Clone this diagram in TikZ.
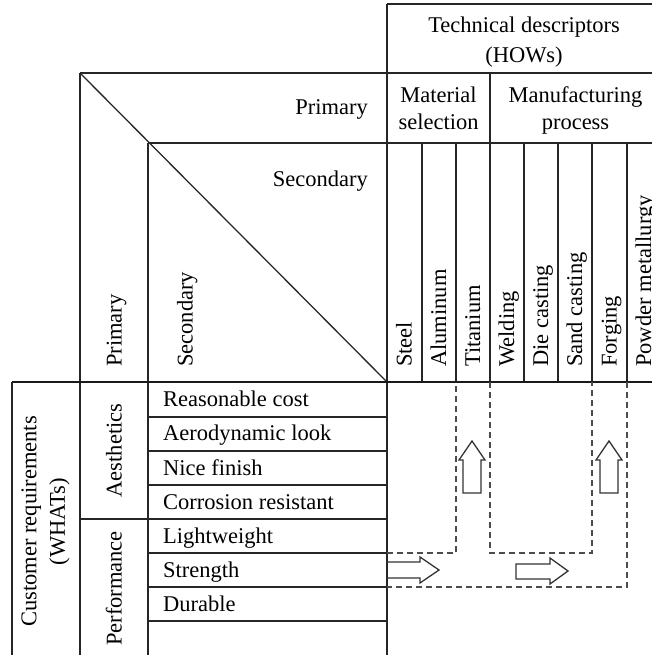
\documentclass[tikz,border=0pt]{standalone}
\usepackage{fontspec}
\setmainfont{Liberation Serif}
\begin{document}
\begin{tikzpicture}[x=1pt,y=-1pt,
  grid/.style={line width=1.3pt, draw=black!85},
  heavy/.style={line width=2.2pt, draw=black!90},
  dashline/.style={line width=1.3pt, draw=black!70, dash pattern=on 6pt off 4pt},
  blockarrow/.style={line width=1.3pt, draw=black!80, line join=miter},
  lbl/.style={inner sep=0pt, font=\fontsize{22.5}{27}\selectfont, text=black},
]
\useasboundingbox (0,0) rectangle (652,655);
\clip (0,0) rectangle (652,655);

% ---- grid of the house ----
\draw[grid] (387,4) -- (661,4);
\draw[grid] (80,73) -- (661,73);
\draw[grid] (148,143) -- (661,143);
\draw[grid] (387,4) -- (387,655);
\draw[grid] (80,73) -- (80,655);
\draw[grid] (148,143) -- (148,655);
\draw[grid] (12,382) -- (12,655);
\draw[grid] (80,73) -- (387,382);
\draw[grid] (490,73) -- (490,382);
\foreach \x in {422,456,524,558,592,627} \draw[grid] (\x,143) -- (\x,382);
\foreach \y in {417,451,485,553,587,621} \draw[grid] (148,\y) -- (387,\y);
\draw[grid] (80,519) -- (387,519);
\draw[heavy] (12,382) -- (661,382);

% ---- header texts ----
\node[lbl, align=center, anchor=north, font=\fontsize{22.5}{30}\selectfont] (hows) at (524,16.5) {Technical descriptors\\(HOWs)};
\node[lbl, align=center, anchor=north] (matsel) at (438.5,86.5) {Material\\selection};
\node[lbl, align=center, anchor=north] (manproc) at (575.5,86.5) {Manufacturing\\process};

\node[lbl, anchor=base east] (prihow) at (368,115) {Primary};
\node[lbl, anchor=base east] (sechow) at (368,186) {Secondary};
\node[lbl, rotate=90, anchor=base west] (priwhat) at (121.7,367) {Primary};
\node[lbl, rotate=90, anchor=base west] (secwhat) at (192.5,367) {Secondary};

% ---- technical descriptors (columns) ----
\foreach \cx/\t [count=\i] in {404.5/Steel, 439/Aluminum, 473/Titanium, 507/Welding,
    541/Die casting, 575/Sand casting, 609.5/Forging, 644/Powder metallurgy}
  \node[lbl, rotate=90, anchor=base west] (col\i) at (\cx+7,367) {\t};

% ---- customer requirements (rows) ----
\node[lbl, rotate=90, align=center, font=\fontsize{22.5}{28.5}\selectfont] (whats) at (45.5,521.5) {Customer requirements\\(WHATs)};
\node[lbl, rotate=90, anchor=base] (aes) at (121.7,450.5) {Aesthetics};
\node[lbl, rotate=90, anchor=base] (perf) at (121.7,588.5) {Performance};
\foreach \t [count=\i] in {Reasonable cost, Aerodynamic look, Nice finish,
    Corrosion resistant, Lightweight, Strength, Durable}
  \node[lbl, anchor=base west] (req\i) at (163,{399.5+34.1*(\i-1)+7.3}) {\t};

% ---- dashed relationship paths ----
\draw[dashline] (387,553) -- (456,553) -- (456,382);
\draw[dashline] (490,382) -- (490,553) -- (592,553) -- (592,382);
\draw[dashline] (627,382) -- (627,587) -- (387,587);

% ---- block arrows ----
\draw[blockarrow] (463,493) -- (463,460) -- (459,460) -- (472,441) -- (485,460) -- (481,460) -- (481,493) -- cycle;
\draw[blockarrow] (600,493) -- (600,460) -- (596,460) -- (609,441) -- (622,460) -- (618,460) -- (618,493) -- cycle;
\draw[blockarrow] (387,562) -- (420,562) -- (420,557) -- (439,570) -- (420,583) -- (420,578) -- (387,578);
\draw[blockarrow] (516,564) -- (550,564) -- (550,558) -- (568,571) -- (550,584) -- (550,579) -- (516,579) -- cycle;
\end{tikzpicture}
\end{document}
